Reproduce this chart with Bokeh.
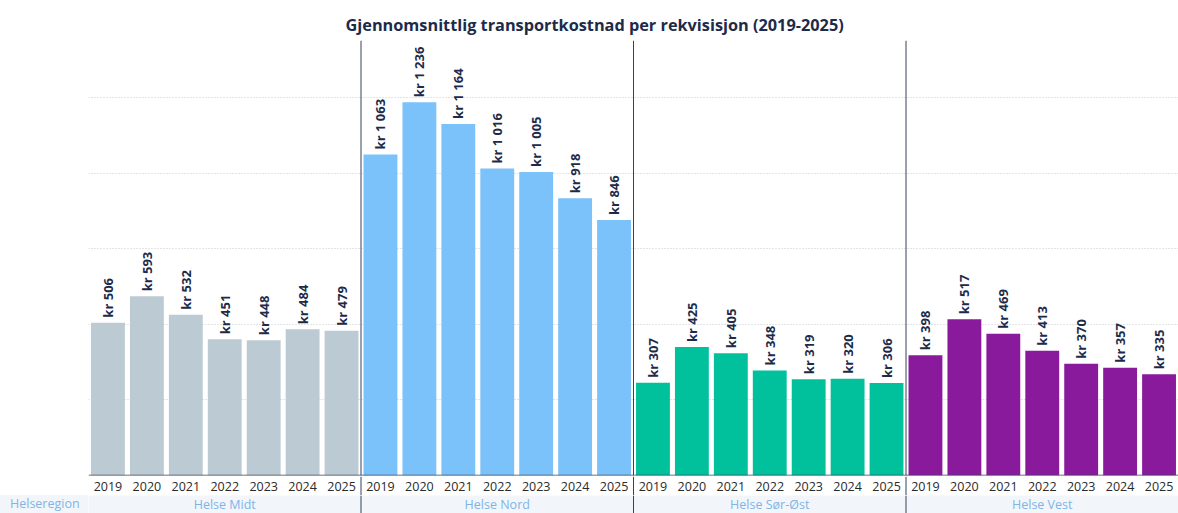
from bokeh.plotting import figure
from bokeh.models import (FactorRange, Range1d, ColumnDataSource, Span, Div,
                          FixedTicker, Spacer)
from bokeh.layouts import column, row
from bokeh.core.properties import value
from bokeh.embed import file_html
from bokeh.resources import INLINE
import math

regions = ["Helse Midt", "Helse Nord", "Helse Sør-Øst", "Helse Vest"]
years = ["2019", "2020", "2021", "2022", "2023", "2024", "2025"]
midt = [506, 593, 532, 451, 448, 484, 479]
nord = [1063, 1236, 1164, 1016, 1005, 918, 846]
sorost = [307, 425, 405, 348, 319, 320, 306]
vest = [398, 517, 469, 413, 370, 357, 335]
colors = ["#bccbd3", "#7cc2fa", "#00c19c", "#8a1a9c"]
title = "Gjennomsnittlig transportkostnad per rekvisisjon (2019-2025)"

FONT = "Open Sans"
NAVY = "#1c2b4a"
DIV_COLOR = "#34435a"
BAND = "#f2f6fa"
REGION_TXT = "#80b4e6"

series = [midt, nord, sorost, vest]
factors, vals, cols, labels, yr = [], [], [], [], []
for r, s, c in zip(regions, series, colors):
    for y, v in zip(years, s):
        factors.append(f"{r} {y}")
        vals.append(v)
        cols.append(c)
        yr.append(y)
        labels.append("kr " + f"{v:,}".replace(",", " "))

src = ColumnDataSource(dict(x=factors, top=vals, color=cols, label=labels, year=yr))
n = len(years)
centers = [factors[i * n + n // 2] for i in range(len(regions))]

xr = FactorRange(*factors, factor_padding=0, range_padding=0)


def dividers(fig):
    for i in range(1, len(regions)):
        fig.add_layout(Span(location=i * n, dimension="height",
                            line_color=DIV_COLOR, line_width=1))


# main chart
p = figure(x_range=xr, y_range=Range1d(0, 1440), width=1178, height=476,
           output_backend="svg", toolbar_location=None, x_axis_type=None,
           min_border_left=88, min_border_right=0, min_border_top=40,
           min_border_bottom=1, outline_line_color=None)
p.title.text = title
p.title.align = "left"
p.title.offset = 257
p.title.text_font = FONT
p.title.text_font_size = "16.3px"
p.title.text_font_style = "bold"
p.title.text_color = NAVY

p.vbar(x="x", top="top", width=0.87, source=src, fill_color="color",
       line_color=None)
p.text(x="x", y="top", text="label", source=src, angle=math.pi / 2,
       text_align="left", text_baseline="middle", y_offset=-5,
       text_font=value(FONT), text_font_style="bold", text_font_size="13px",
       text_color=NAVY)
dividers(p)
p.add_layout(Span(location=0, dimension="width", line_color="#3a4658",
                  line_width=1.5))

p.yaxis.visible = False
p.ygrid.ticker = FixedTicker(ticks=[250, 500, 750, 1000, 1250])
p.ygrid.grid_line_color = "#c4c8cc"
p.ygrid.grid_line_dash = "1 2"
p.xgrid.grid_line_color = None

# year label strip
p2 = figure(x_range=xr, y_range=Range1d(0, 1), width=1090, height=19,
            output_backend="svg", toolbar_location=None, min_border=0,
            outline_line_color=None)
p2.axis.visible = False
p2.grid.visible = False
p2.text(x="x", y=0.5, text="year", source=src, text_align="center",
        text_baseline="middle", text_font=value(FONT), text_font_size="12.5px",
        text_color="#2a2a2a")
dividers(p2)

# region band
p3 = figure(x_range=xr, y_range=Range1d(0, 1), width=1090, height=18,
            output_backend="svg", toolbar_location=None, min_border=0,
            outline_line_color=None, background_fill_color=BAND,
            border_fill_color=BAND)
p3.axis.visible = False
p3.grid.visible = False
p3.text(x=centers, y=[0.5] * len(centers), text=regions, text_align="center",
        text_baseline="middle", text_font=value(FONT), text_font_size="12.5px",
        text_color=REGION_TXT)
dividers(p3)

lab = Div(text='<div style="padding-left:10px;line-height:18px;white-space:nowrap;">Helseregion</div>',
          width=88, height=18, margin=0,
          styles={"background-color": BAND, "color": REGION_TXT,
                  "font-family": FONT, "font-size": "12.5px"})

layout = column(p, row(Spacer(width=88, height=19, margin=0), p2, spacing=0),
                row(lab, p3, spacing=0), spacing=0)

open("out.html", "w").write(file_html(layout, INLINE))
